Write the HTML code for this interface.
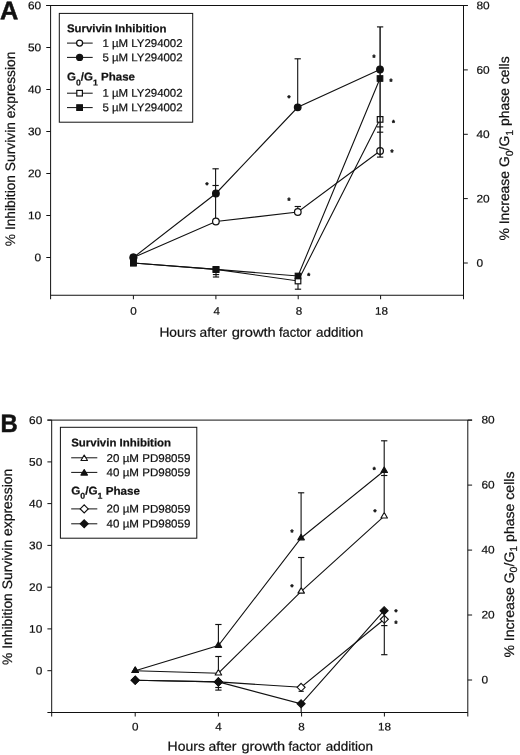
<!DOCTYPE html>
<html lang="en">
<head>
<meta charset="utf-8">
<title>Survivin inhibition and G0/G1 phase</title>
<style>
html,body{margin:0;padding:0;background:#fff;}
body{width:520px;height:755px;overflow:hidden;}
svg{display:block;filter:grayscale(1);}
svg text{text-rendering:geometricPrecision;font-family:'Liberation Sans', Arial, Helvetica, sans-serif;fill:#111;stroke:#111;stroke-width:0.22px;}
</style>
</head>
<body>
<svg width="520" height="755" viewBox="0 0 520 755">
<rect x="0" y="0" width="520" height="755" fill="#fff"/>
<line x1="46.30" y1="5.50" x2="467.80" y2="5.50" stroke="#111" stroke-width="1"/>
<line x1="50.60" y1="5.50" x2="50.60" y2="299.25" stroke="#111" stroke-width="1"/>
<line x1="463.50" y1="5.50" x2="463.50" y2="299.25" stroke="#111" stroke-width="1"/>
<line x1="50.60" y1="295.25" x2="463.50" y2="295.25" stroke="#111" stroke-width="1"/>
<line x1="46.30" y1="5.50" x2="50.60" y2="5.50" stroke="#111" stroke-width="1"/>
<text transform="translate(41.20,9.30) rotate(0.05)" font-size="11.1" text-anchor="end" textLength="13.21" lengthAdjust="spacingAndGlyphs">60</text>
<line x1="46.30" y1="47.50" x2="50.60" y2="47.50" stroke="#111" stroke-width="1"/>
<text transform="translate(41.20,51.30) rotate(0.05)" font-size="11.1" text-anchor="end" textLength="13.21" lengthAdjust="spacingAndGlyphs">50</text>
<line x1="46.30" y1="89.50" x2="50.60" y2="89.50" stroke="#111" stroke-width="1"/>
<text transform="translate(41.20,93.30) rotate(0.05)" font-size="11.1" text-anchor="end" textLength="13.21" lengthAdjust="spacingAndGlyphs">40</text>
<line x1="46.30" y1="131.50" x2="50.60" y2="131.50" stroke="#111" stroke-width="1"/>
<text transform="translate(41.20,135.30) rotate(0.05)" font-size="11.1" text-anchor="end" textLength="13.21" lengthAdjust="spacingAndGlyphs">30</text>
<line x1="46.30" y1="173.50" x2="50.60" y2="173.50" stroke="#111" stroke-width="1"/>
<text transform="translate(41.20,177.30) rotate(0.05)" font-size="11.1" text-anchor="end" textLength="13.21" lengthAdjust="spacingAndGlyphs">20</text>
<line x1="46.30" y1="215.50" x2="50.60" y2="215.50" stroke="#111" stroke-width="1"/>
<text transform="translate(41.20,219.30) rotate(0.05)" font-size="11.1" text-anchor="end" textLength="13.21" lengthAdjust="spacingAndGlyphs">10</text>
<line x1="46.30" y1="257.50" x2="50.60" y2="257.50" stroke="#111" stroke-width="1"/>
<text transform="translate(41.20,261.30) rotate(0.05)" font-size="11.1" text-anchor="end" textLength="6.60" lengthAdjust="spacingAndGlyphs">0</text>
<line x1="463.50" y1="5.50" x2="467.80" y2="5.50" stroke="#111" stroke-width="1"/>
<text transform="translate(476.40,9.30) rotate(0.05)" font-size="11.1" text-anchor="start" textLength="13.21" lengthAdjust="spacingAndGlyphs">80</text>
<line x1="463.50" y1="69.90" x2="467.80" y2="69.90" stroke="#111" stroke-width="1"/>
<text transform="translate(476.40,73.70) rotate(0.05)" font-size="11.1" text-anchor="start" textLength="13.21" lengthAdjust="spacingAndGlyphs">60</text>
<line x1="463.50" y1="134.30" x2="467.80" y2="134.30" stroke="#111" stroke-width="1"/>
<text transform="translate(476.40,138.10) rotate(0.05)" font-size="11.1" text-anchor="start" textLength="13.21" lengthAdjust="spacingAndGlyphs">40</text>
<line x1="463.50" y1="198.60" x2="467.80" y2="198.60" stroke="#111" stroke-width="1"/>
<text transform="translate(476.40,202.40) rotate(0.05)" font-size="11.1" text-anchor="start" textLength="13.21" lengthAdjust="spacingAndGlyphs">20</text>
<line x1="463.50" y1="263.00" x2="467.80" y2="263.00" stroke="#111" stroke-width="1"/>
<text transform="translate(476.40,266.80) rotate(0.05)" font-size="11.1" text-anchor="start" textLength="6.60" lengthAdjust="spacingAndGlyphs">0</text>
<line x1="133.40" y1="295.25" x2="133.40" y2="299.25" stroke="#111" stroke-width="1"/>
<text transform="translate(133.50,314.85) rotate(0.05)" font-size="11.1" text-anchor="middle" textLength="6.48" lengthAdjust="spacingAndGlyphs">0</text>
<line x1="215.90" y1="295.25" x2="215.90" y2="299.25" stroke="#111" stroke-width="1"/>
<text transform="translate(216.80,314.85) rotate(0.05)" font-size="11.1" text-anchor="middle" textLength="6.48" lengthAdjust="spacingAndGlyphs">4</text>
<line x1="298.20" y1="295.25" x2="298.20" y2="299.25" stroke="#111" stroke-width="1"/>
<text transform="translate(299.10,314.85) rotate(0.05)" font-size="11.1" text-anchor="middle" textLength="6.48" lengthAdjust="spacingAndGlyphs">8</text>
<line x1="380.60" y1="295.25" x2="380.60" y2="299.25" stroke="#111" stroke-width="1"/>
<text transform="translate(381.50,314.85) rotate(0.05)" font-size="11.1" text-anchor="middle" textLength="12.96" lengthAdjust="spacingAndGlyphs">18</text>
<text transform="translate(0.00,19.20) rotate(0.05)" font-size="25.4" text-anchor="start" font-weight="bold" textLength="18.30" lengthAdjust="spacingAndGlyphs" style="stroke-width:0.5px">A</text>
<text transform="translate(14.5,246.2) rotate(-90)" font-size="13.75" textLength="194.5" lengthAdjust="spacingAndGlyphs">% Inhibition Survivin expression</text>
<text transform="translate(509.3,240.6) rotate(-90)" font-size="13.75" textLength="184.3" lengthAdjust="spacingAndGlyphs">% Increase G<tspan font-size="10.3" dy="3.2">0</tspan><tspan dy="-3.2">/G</tspan><tspan font-size="10.3" dy="3.2">1</tspan><tspan dy="-3.2"> phase cells</tspan></text>
<text transform="translate(159.40,336.80) rotate(0.05)" font-size="13.2" text-anchor="start" textLength="36.70" lengthAdjust="spacingAndGlyphs">Hours</text>
<text transform="translate(199.60,336.80) rotate(0.05)" font-size="13.2" text-anchor="start" textLength="27.60" lengthAdjust="spacingAndGlyphs">after</text>
<text transform="translate(231.70,336.80) rotate(0.05)" font-size="13.2" text-anchor="start" textLength="44.10" lengthAdjust="spacingAndGlyphs">growth</text>
<text transform="translate(278.90,336.80) rotate(0.05)" font-size="13.2" text-anchor="start" textLength="32.40" lengthAdjust="spacingAndGlyphs">factor</text>
<text transform="translate(316.10,336.80) rotate(0.05)" font-size="13.2" text-anchor="start" textLength="47.20" lengthAdjust="spacingAndGlyphs">addition</text>
<polyline points="133.40,257.50 215.90,193.50 297.70,107.30 380.00,69.50" fill="none" stroke="#111" stroke-width="1.1"/>
<polyline points="133.40,257.50 215.90,221.50 297.80,212.00 380.00,151.00" fill="none" stroke="#111" stroke-width="1.1"/>
<polyline points="133.40,263.00 216.00,269.40 298.00,281.00 380.00,119.30" fill="none" stroke="#111" stroke-width="1.1"/>
<polyline points="133.40,263.00 216.00,269.40 298.00,276.00 380.00,78.50" fill="none" stroke="#111" stroke-width="1.1"/>
<rect x="130.60" y="260.20" width="5.6" height="5.6" fill="#fff" stroke="#111" stroke-width="1.2"/>
<rect x="213.20" y="266.80" width="5.6" height="5.6" fill="#fff" stroke="#111" stroke-width="1.2"/>
<rect x="295.20" y="278.20" width="5.6" height="5.6" fill="#fff" stroke="#111" stroke-width="1.2"/>
<rect x="377.30" y="116.60" width="5.6" height="5.6" fill="#fff" stroke="#111" stroke-width="1.2"/>
<circle cx="133.40" cy="257.50" r="3.3" fill="#fff" stroke="#111" stroke-width="1.25"/>
<circle cx="215.90" cy="221.50" r="3.3" fill="#fff" stroke="#111" stroke-width="1.25"/>
<circle cx="297.80" cy="212.00" r="3.3" fill="#fff" stroke="#111" stroke-width="1.25"/>
<circle cx="380.10" cy="151.00" r="3.3" fill="#fff" stroke="#111" stroke-width="1.25"/>
<line x1="215.60" y1="168.80" x2="215.60" y2="218.00" stroke="#111" stroke-width="1.1"/>
<line x1="212.45" y1="168.80" x2="218.75" y2="168.80" stroke="#111" stroke-width="1.15"/>
<line x1="212.45" y1="185.50" x2="218.75" y2="185.50" stroke="#111" stroke-width="1.15"/>
<line x1="216.00" y1="269.40" x2="216.00" y2="277.00" stroke="#111" stroke-width="1.1"/>
<line x1="212.85" y1="274.60" x2="219.15" y2="274.60" stroke="#111" stroke-width="1.15"/>
<line x1="212.85" y1="277.00" x2="219.15" y2="277.00" stroke="#111" stroke-width="1.15"/>
<line x1="297.70" y1="58.80" x2="297.70" y2="107.30" stroke="#111" stroke-width="1.1"/>
<line x1="294.55" y1="58.80" x2="300.85" y2="58.80" stroke="#111" stroke-width="1.15"/>
<line x1="297.80" y1="206.50" x2="297.80" y2="208.60" stroke="#111" stroke-width="1.1"/>
<line x1="294.65" y1="206.50" x2="300.95" y2="206.50" stroke="#111" stroke-width="1.15"/>
<line x1="298.00" y1="284.00" x2="298.00" y2="289.20" stroke="#111" stroke-width="1.1"/>
<line x1="294.85" y1="289.20" x2="301.15" y2="289.20" stroke="#111" stroke-width="1.15"/>
<line x1="380.10" y1="26.90" x2="380.10" y2="157.10" stroke="#111" stroke-width="1.45"/>
<line x1="376.95" y1="26.90" x2="383.25" y2="26.90" stroke="#111" stroke-width="1.15"/>
<line x1="376.95" y1="126.90" x2="383.25" y2="126.90" stroke="#111" stroke-width="1.15"/>
<line x1="376.95" y1="132.20" x2="383.25" y2="132.20" stroke="#111" stroke-width="1.15"/>
<line x1="376.95" y1="157.10" x2="383.25" y2="157.10" stroke="#111" stroke-width="1.15"/>
<rect x="130.65" y="260.25" width="5.5" height="5.5" fill="#111" stroke="#111" stroke-width="1.2"/>
<rect x="213.25" y="266.65" width="5.5" height="5.5" fill="#111" stroke="#111" stroke-width="1.2"/>
<rect x="295.25" y="273.25" width="5.5" height="5.5" fill="#111" stroke="#111" stroke-width="1.2"/>
<rect x="377.25" y="75.75" width="5.5" height="5.5" fill="#111" stroke="#111" stroke-width="1.2"/>
<circle cx="133.40" cy="257.50" r="3.3" fill="#111" stroke="#111" stroke-width="1.25"/>
<circle cx="215.90" cy="193.50" r="3.3" fill="#111" stroke="#111" stroke-width="1.25"/>
<circle cx="297.70" cy="107.30" r="3.3" fill="#111" stroke="#111" stroke-width="1.25"/>
<circle cx="380.00" cy="69.50" r="3.3" fill="#111" stroke="#111" stroke-width="1.25"/>
<text transform="translate(206.85,187.57) rotate(0.05)" font-size="7.5" text-anchor="middle" font-weight="bold" style="stroke-width:0.45px">*</text>
<text transform="translate(289.05,100.57) rotate(0.05)" font-size="7.5" text-anchor="middle" font-weight="bold" style="stroke-width:0.45px">*</text>
<text transform="translate(289.05,202.97) rotate(0.05)" font-size="7.5" text-anchor="middle" font-weight="bold" style="stroke-width:0.45px">*</text>
<text transform="translate(308.75,278.17) rotate(0.05)" font-size="7.5" text-anchor="middle" font-weight="bold" style="stroke-width:0.45px">*</text>
<text transform="translate(373.85,59.97) rotate(0.05)" font-size="7.5" text-anchor="middle" font-weight="bold" style="stroke-width:0.45px">*</text>
<text transform="translate(390.85,83.97) rotate(0.05)" font-size="7.5" text-anchor="middle" font-weight="bold" style="stroke-width:0.45px">*</text>
<text transform="translate(393.55,125.37) rotate(0.05)" font-size="7.5" text-anchor="middle" font-weight="bold" style="stroke-width:0.45px">*</text>
<text transform="translate(392.05,154.77) rotate(0.05)" font-size="7.5" text-anchor="middle" font-weight="bold" style="stroke-width:0.45px">*</text>
<rect x="59.3" y="13.4" width="133.40" height="108.80" fill="#fff" stroke="#111" stroke-width="1"/>
<text transform="translate(66.9,32.3) rotate(0.05)" font-size="11.3" font-weight="bold" textLength="99.6" lengthAdjust="spacingAndGlyphs">Survivin Inhibition</text>
<line x1="67.00" y1="43.10" x2="92.70" y2="43.10" stroke="#111" stroke-width="1"/>
<circle cx="79.60" cy="43.10" r="3.0" fill="#fff" stroke="#111" stroke-width="1.25"/>
<text transform="translate(102.40,46.90) rotate(0.05)" font-size="11.3" text-anchor="start" textLength="80.20" lengthAdjust="spacingAndGlyphs">1 µM LY294002</text>
<line x1="67.00" y1="57.40" x2="92.70" y2="57.40" stroke="#111" stroke-width="1"/>
<circle cx="79.60" cy="57.40" r="3.0" fill="#111" stroke="#111" stroke-width="1.25"/>
<text transform="translate(102.40,61.20) rotate(0.05)" font-size="11.3" text-anchor="start" textLength="80.20" lengthAdjust="spacingAndGlyphs">5 µM LY294002</text>
<text transform="translate(67.0,80.4) rotate(0.05)" font-size="11.3" font-weight="bold" textLength="68.0" lengthAdjust="spacingAndGlyphs">G<tspan font-size="8.5" dy="5.0">0</tspan><tspan dy="-5.0">/G</tspan><tspan font-size="8.5" dy="5.0">1</tspan><tspan dy="-5.0"> Phase</tspan></text>
<line x1="67.00" y1="93.20" x2="92.70" y2="93.20" stroke="#111" stroke-width="1"/>
<rect x="76.80" y="90.40" width="5.6" height="5.6" fill="#fff" stroke="#111" stroke-width="1.2"/>
<text transform="translate(102.40,96.80) rotate(0.05)" font-size="11.3" text-anchor="start" textLength="80.20" lengthAdjust="spacingAndGlyphs">1 µM LY294002</text>
<line x1="67.00" y1="107.60" x2="92.70" y2="107.60" stroke="#111" stroke-width="1"/>
<rect x="76.80" y="104.80" width="5.6" height="5.6" fill="#111" stroke="#111" stroke-width="1.2"/>
<text transform="translate(102.40,111.20) rotate(0.05)" font-size="11.3" text-anchor="start" textLength="80.20" lengthAdjust="spacingAndGlyphs">5 µM LY294002</text>
<line x1="47.40" y1="420.10" x2="472.10" y2="420.10" stroke="#111" stroke-width="1"/>
<line x1="51.70" y1="420.10" x2="51.70" y2="716.50" stroke="#111" stroke-width="1"/>
<line x1="467.80" y1="420.10" x2="467.80" y2="716.50" stroke="#111" stroke-width="1"/>
<line x1="47.40" y1="712.50" x2="467.80" y2="712.50" stroke="#111" stroke-width="1"/>
<line x1="47.40" y1="420.10" x2="51.70" y2="420.10" stroke="#111" stroke-width="1"/>
<text transform="translate(42.30,423.90) rotate(0.05)" font-size="11.1" text-anchor="end" textLength="13.21" lengthAdjust="spacingAndGlyphs">60</text>
<line x1="47.40" y1="461.90" x2="51.70" y2="461.90" stroke="#111" stroke-width="1"/>
<text transform="translate(42.30,465.70) rotate(0.05)" font-size="11.1" text-anchor="end" textLength="13.21" lengthAdjust="spacingAndGlyphs">50</text>
<line x1="47.40" y1="503.60" x2="51.70" y2="503.60" stroke="#111" stroke-width="1"/>
<text transform="translate(42.30,507.40) rotate(0.05)" font-size="11.1" text-anchor="end" textLength="13.21" lengthAdjust="spacingAndGlyphs">40</text>
<line x1="47.40" y1="545.40" x2="51.70" y2="545.40" stroke="#111" stroke-width="1"/>
<text transform="translate(42.30,549.20) rotate(0.05)" font-size="11.1" text-anchor="end" textLength="13.21" lengthAdjust="spacingAndGlyphs">30</text>
<line x1="47.40" y1="587.20" x2="51.70" y2="587.20" stroke="#111" stroke-width="1"/>
<text transform="translate(42.30,591.00) rotate(0.05)" font-size="11.1" text-anchor="end" textLength="13.21" lengthAdjust="spacingAndGlyphs">20</text>
<line x1="47.40" y1="628.90" x2="51.70" y2="628.90" stroke="#111" stroke-width="1"/>
<text transform="translate(42.30,632.70) rotate(0.05)" font-size="11.1" text-anchor="end" textLength="13.21" lengthAdjust="spacingAndGlyphs">10</text>
<line x1="47.40" y1="670.70" x2="51.70" y2="670.70" stroke="#111" stroke-width="1"/>
<text transform="translate(42.30,674.50) rotate(0.05)" font-size="11.1" text-anchor="end" textLength="6.60" lengthAdjust="spacingAndGlyphs">0</text>
<line x1="467.80" y1="420.10" x2="472.10" y2="420.10" stroke="#111" stroke-width="1"/>
<text transform="translate(481.40,423.55) rotate(0.05)" font-size="11.1" text-anchor="start" textLength="13.21" lengthAdjust="spacingAndGlyphs">80</text>
<line x1="467.80" y1="485.10" x2="472.10" y2="485.10" stroke="#111" stroke-width="1"/>
<text transform="translate(481.40,488.55) rotate(0.05)" font-size="11.1" text-anchor="start" textLength="13.21" lengthAdjust="spacingAndGlyphs">60</text>
<line x1="467.80" y1="550.10" x2="472.10" y2="550.10" stroke="#111" stroke-width="1"/>
<text transform="translate(481.40,553.55) rotate(0.05)" font-size="11.1" text-anchor="start" textLength="13.21" lengthAdjust="spacingAndGlyphs">40</text>
<line x1="467.80" y1="615.00" x2="472.10" y2="615.00" stroke="#111" stroke-width="1"/>
<text transform="translate(481.40,618.45) rotate(0.05)" font-size="11.1" text-anchor="start" textLength="13.21" lengthAdjust="spacingAndGlyphs">20</text>
<line x1="467.80" y1="680.00" x2="472.10" y2="680.00" stroke="#111" stroke-width="1"/>
<text transform="translate(481.40,683.45) rotate(0.05)" font-size="11.1" text-anchor="start" textLength="6.60" lengthAdjust="spacingAndGlyphs">0</text>
<line x1="135.20" y1="712.50" x2="135.20" y2="716.50" stroke="#111" stroke-width="1"/>
<text transform="translate(135.30,730.50) rotate(0.05)" font-size="11.1" text-anchor="middle" textLength="6.48" lengthAdjust="spacingAndGlyphs">0</text>
<line x1="218.40" y1="712.50" x2="218.40" y2="716.50" stroke="#111" stroke-width="1"/>
<text transform="translate(218.40,730.50) rotate(0.05)" font-size="11.1" text-anchor="middle" textLength="6.48" lengthAdjust="spacingAndGlyphs">4</text>
<line x1="301.60" y1="712.50" x2="301.60" y2="716.50" stroke="#111" stroke-width="1"/>
<text transform="translate(301.60,730.50) rotate(0.05)" font-size="11.1" text-anchor="middle" textLength="6.48" lengthAdjust="spacingAndGlyphs">8</text>
<line x1="384.40" y1="712.50" x2="384.40" y2="716.50" stroke="#111" stroke-width="1"/>
<text transform="translate(384.40,730.50) rotate(0.05)" font-size="11.1" text-anchor="middle" textLength="12.96" lengthAdjust="spacingAndGlyphs">18</text>
<text transform="translate(0.40,432.10) rotate(0.05)" font-size="25.2" text-anchor="start" font-weight="bold" textLength="17.20" lengthAdjust="spacingAndGlyphs" style="stroke-width:0.5px">B</text>
<text transform="translate(11.6,665.0) rotate(-90)" font-size="13.75" textLength="196.2" lengthAdjust="spacingAndGlyphs">% Inhibition Survivin expression</text>
<text transform="translate(513.6,657.6) rotate(-90)" font-size="13.75" textLength="186.1" lengthAdjust="spacingAndGlyphs">% Increase G<tspan font-size="10.3" dy="3.2">0</tspan><tspan dy="-3.2">/G</tspan><tspan font-size="10.3" dy="3.2">1</tspan><tspan dy="-3.2"> phase cells</tspan></text>
<text transform="translate(167.60,750.80) rotate(0.05)" font-size="13.2" text-anchor="start" textLength="37.30" lengthAdjust="spacingAndGlyphs">Hours</text>
<text transform="translate(208.60,750.80) rotate(0.05)" font-size="13.2" text-anchor="start" textLength="27.90" lengthAdjust="spacingAndGlyphs">after</text>
<text transform="translate(241.40,750.80) rotate(0.05)" font-size="13.2" text-anchor="start" textLength="43.60" lengthAdjust="spacingAndGlyphs">growth</text>
<text transform="translate(288.40,750.80) rotate(0.05)" font-size="13.2" text-anchor="start" textLength="32.40" lengthAdjust="spacingAndGlyphs">factor</text>
<text transform="translate(325.80,750.80) rotate(0.05)" font-size="13.2" text-anchor="start" textLength="47.10" lengthAdjust="spacingAndGlyphs">addition</text>
<polyline points="135.20,670.70 218.40,645.60 301.10,538.00 384.20,470.70" fill="none" stroke="#111" stroke-width="1.1"/>
<polyline points="135.20,670.70 218.40,673.20 301.20,591.30 384.20,516.20" fill="none" stroke="#111" stroke-width="1.1"/>
<polyline points="135.20,680.20 218.40,681.90 301.10,687.30 384.30,619.30" fill="none" stroke="#111" stroke-width="1.1"/>
<polyline points="135.20,680.20 218.40,681.90 301.10,703.80 384.10,610.70" fill="none" stroke="#111" stroke-width="1.1"/>
<polygon points="135.20,676.20 139.20,680.20 135.20,684.20 131.20,680.20" fill="#fff" stroke="#111" stroke-width="1.15"/>
<polygon points="218.40,677.90 222.40,681.90 218.40,685.90 214.40,681.90" fill="#fff" stroke="#111" stroke-width="1.15"/>
<polygon points="301.10,683.30 305.10,687.30 301.10,691.30 297.10,687.30" fill="#fff" stroke="#111" stroke-width="1.15"/>
<polygon points="384.30,615.30 388.30,619.30 384.30,623.30 380.30,619.30" fill="#fff" stroke="#111" stroke-width="1.15"/>
<polygon points="135.20,667.00 138.45,672.50 131.95,672.50" fill="#fff" stroke="#111" stroke-width="1.15" stroke-linejoin="round"/>
<polygon points="218.40,669.50 221.65,675.00 215.15,675.00" fill="#fff" stroke="#111" stroke-width="1.15" stroke-linejoin="round"/>
<polygon points="301.20,587.60 304.45,593.10 297.95,593.10" fill="#fff" stroke="#111" stroke-width="1.15" stroke-linejoin="round"/>
<polygon points="384.20,512.50 387.45,518.00 380.95,518.00" fill="#fff" stroke="#111" stroke-width="1.15" stroke-linejoin="round"/>
<line x1="218.40" y1="624.50" x2="218.40" y2="645.20" stroke="#111" stroke-width="1.1"/>
<line x1="215.25" y1="624.50" x2="221.55" y2="624.50" stroke="#111" stroke-width="1.15"/>
<line x1="218.40" y1="656.50" x2="218.40" y2="669.30" stroke="#111" stroke-width="1.1"/>
<line x1="215.25" y1="656.50" x2="221.55" y2="656.50" stroke="#111" stroke-width="1.15"/>
<line x1="218.40" y1="681.90" x2="218.40" y2="690.10" stroke="#111" stroke-width="1.1"/>
<line x1="215.25" y1="687.50" x2="221.55" y2="687.50" stroke="#111" stroke-width="1.15"/>
<line x1="215.25" y1="690.10" x2="221.55" y2="690.10" stroke="#111" stroke-width="1.15"/>
<line x1="301.10" y1="492.80" x2="301.10" y2="538.00" stroke="#111" stroke-width="1.1"/>
<line x1="297.95" y1="492.80" x2="304.25" y2="492.80" stroke="#111" stroke-width="1.15"/>
<line x1="301.20" y1="557.50" x2="301.20" y2="587.30" stroke="#111" stroke-width="1.1"/>
<line x1="298.05" y1="557.50" x2="304.35" y2="557.50" stroke="#111" stroke-width="1.15"/>
<line x1="301.15" y1="691.00" x2="301.15" y2="691.30" stroke="#111" stroke-width="1.1"/>
<line x1="298.55" y1="691.30" x2="303.75" y2="691.30" stroke="#111" stroke-width="1.15"/>
<line x1="301.15" y1="703.80" x2="301.15" y2="712.50" stroke="#111" stroke-width="1.1"/>
<line x1="384.20" y1="440.80" x2="384.20" y2="512.20" stroke="#111" stroke-width="1.1"/>
<line x1="381.05" y1="440.80" x2="387.35" y2="440.80" stroke="#111" stroke-width="1.15"/>
<line x1="381.05" y1="475.50" x2="387.35" y2="475.50" stroke="#111" stroke-width="1.15"/>
<line x1="384.30" y1="615.00" x2="384.30" y2="654.70" stroke="#111" stroke-width="1.1"/>
<line x1="381.15" y1="625.60" x2="387.45" y2="625.60" stroke="#111" stroke-width="1.15"/>
<line x1="381.15" y1="654.70" x2="387.45" y2="654.70" stroke="#111" stroke-width="1.15"/>
<polygon points="135.20,676.20 139.20,680.20 135.20,684.20 131.20,680.20" fill="#111" stroke="#111" stroke-width="1.15"/>
<polygon points="218.40,677.90 222.40,681.90 218.40,685.90 214.40,681.90" fill="#111" stroke="#111" stroke-width="1.15"/>
<polygon points="301.10,699.80 305.10,703.80 301.10,707.80 297.10,703.80" fill="#111" stroke="#111" stroke-width="1.15"/>
<polygon points="384.10,606.70 388.10,610.70 384.10,614.70 380.10,610.70" fill="#111" stroke="#111" stroke-width="1.15"/>
<polygon points="135.20,667.00 138.45,672.50 131.95,672.50" fill="#111" stroke="#111" stroke-width="1.15" stroke-linejoin="round"/>
<polygon points="218.40,641.90 221.65,647.40 215.15,647.40" fill="#111" stroke="#111" stroke-width="1.15" stroke-linejoin="round"/>
<polygon points="301.10,534.30 304.35,539.80 297.85,539.80" fill="#111" stroke="#111" stroke-width="1.15" stroke-linejoin="round"/>
<polygon points="384.20,467.00 387.45,472.50 380.95,472.50" fill="#111" stroke="#111" stroke-width="1.15" stroke-linejoin="round"/>
<text transform="translate(291.95,534.67) rotate(0.05)" font-size="7.5" text-anchor="middle" font-weight="bold" style="stroke-width:0.45px">*</text>
<text transform="translate(292.05,589.47) rotate(0.05)" font-size="7.5" text-anchor="middle" font-weight="bold" style="stroke-width:0.45px">*</text>
<text transform="translate(374.25,472.17) rotate(0.05)" font-size="7.5" text-anchor="middle" font-weight="bold" style="stroke-width:0.45px">*</text>
<text transform="translate(375.05,514.57) rotate(0.05)" font-size="7.5" text-anchor="middle" font-weight="bold" style="stroke-width:0.45px">*</text>
<text transform="translate(396.05,614.47) rotate(0.05)" font-size="7.5" text-anchor="middle" font-weight="bold" style="stroke-width:0.45px">*</text>
<text transform="translate(396.05,625.97) rotate(0.05)" font-size="7.5" text-anchor="middle" font-weight="bold" style="stroke-width:0.45px">*</text>
<rect x="60.4" y="427.3" width="136.40" height="110.90" fill="#fff" stroke="#111" stroke-width="1"/>
<text transform="translate(71.2,446.5) rotate(0.05)" font-size="11.3" font-weight="bold" textLength="99.9" lengthAdjust="spacingAndGlyphs">Survivin Inhibition</text>
<line x1="71.20" y1="457.80" x2="97.30" y2="457.80" stroke="#111" stroke-width="1"/>
<polygon points="84.20,455.00 87.45,460.50 80.95,460.50" fill="#fff" stroke="#111" stroke-width="1.15" stroke-linejoin="round"/>
<text transform="translate(106.60,461.90) rotate(0.05)" font-size="11.3" text-anchor="start" textLength="83.80" lengthAdjust="spacingAndGlyphs">20 µM PD98059</text>
<line x1="71.20" y1="472.40" x2="97.30" y2="472.40" stroke="#111" stroke-width="1"/>
<polygon points="84.20,469.60 87.45,475.10 80.95,475.10" fill="#111" stroke="#111" stroke-width="1.15" stroke-linejoin="round"/>
<text transform="translate(106.60,476.20) rotate(0.05)" font-size="11.3" text-anchor="start" textLength="83.80" lengthAdjust="spacingAndGlyphs">40 µM PD98059</text>
<text transform="translate(71.3,494.6) rotate(0.05)" font-size="11.3" font-weight="bold" textLength="68.7" lengthAdjust="spacingAndGlyphs">G<tspan font-size="8.5" dy="4.2">0</tspan><tspan dy="-4.2">/G</tspan><tspan font-size="8.5" dy="4.2">1</tspan><tspan dy="-4.2"> Phase</tspan></text>
<line x1="71.20" y1="508.90" x2="97.30" y2="508.90" stroke="#111" stroke-width="1"/>
<polygon points="84.20,504.90 88.20,508.90 84.20,512.90 80.20,508.90" fill="#fff" stroke="#111" stroke-width="1.15"/>
<text transform="translate(106.60,512.60) rotate(0.05)" font-size="11.3" text-anchor="start" textLength="83.80" lengthAdjust="spacingAndGlyphs">20 µM PD98059</text>
<line x1="71.20" y1="523.80" x2="97.30" y2="523.80" stroke="#111" stroke-width="1"/>
<polygon points="84.20,519.80 88.20,523.80 84.20,527.80 80.20,523.80" fill="#111" stroke="#111" stroke-width="1.15"/>
<text transform="translate(106.60,527.40) rotate(0.05)" font-size="11.3" text-anchor="start" textLength="83.80" lengthAdjust="spacingAndGlyphs">40 µM PD98059</text>
</svg>
</body>
</html>
